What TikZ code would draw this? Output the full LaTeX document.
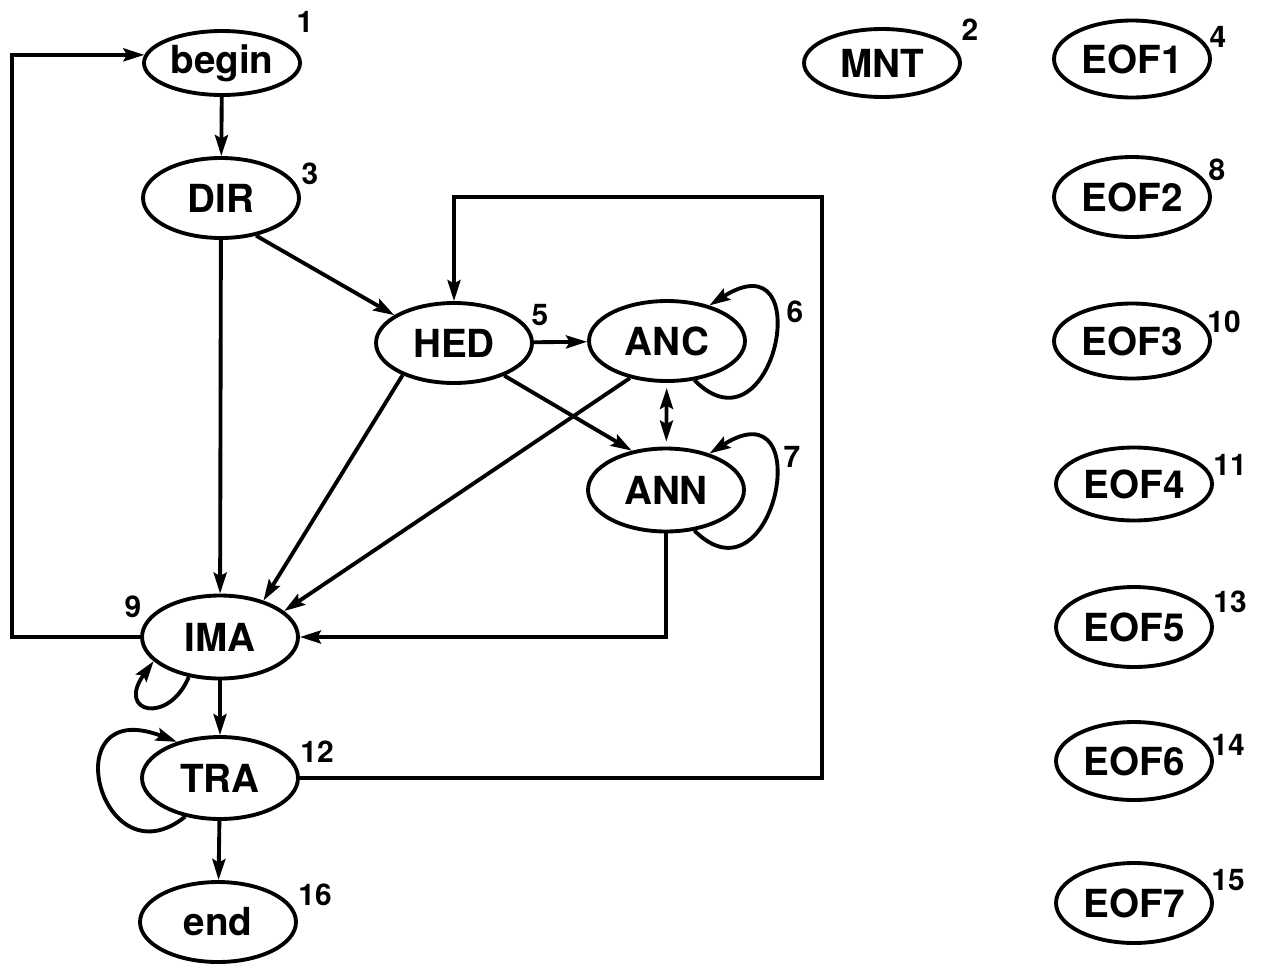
\documentclass[tikz,border=0pt]{standalone}
\usepackage{fontspec}
\setsansfont{TeX Gyre Heros}
\usepackage{tikz}
\usetikzlibrary{calc,shapes.geometric,arrows.meta}

\begin{document}
\begin{tikzpicture}[x=0.02cm, y=-0.02cm, line width=2.2pt,
		>={Stealth[length=4.2mm,width=2.6mm,inset=0.7mm]},
		state/.style={ellipse, draw, inner sep=0pt, minimum width=3.12cm, minimum height=1.6cm,
			font=\fontsize{22}{25}\selectfont\sffamily\bfseries},
		num/.style={inner sep=0pt, font=\fontsize{17}{19}\selectfont\sffamily\bfseries}]
					\useasboundingbox (0, 0) rectangle (1264, 964);

					% main column
					\node[state, minimum height=1.28cm] at (222, 63) (begin) {begin};
					\node[state] at (221, 198) (DIR) {DIR};
					\node[state] at (454, 343) (HED) {HED};
					\node[state] at (667, 341) (ANC) {ANC};
					\node[state, minimum height=1.66cm] at (666, 490) (ANN) {ANN};
					\node[state, minimum height=1.66cm] at (220, 637) (IMA) {IMA};
					\node[state, minimum height=1.64cm] at (220, 778) (TRA) {TRA};
					\node[state] at (218, 922) (end) {end};

					% isolated states
					\node[state, minimum height=1.36cm] at (882, 63) (MNT) {MNT};
					\node[state, minimum height=1.54cm] at (1132, 59) (EOF1) {EOF1};
					\node[state] at (1132, 197) (EOF2) {EOF2};
					\node[state, minimum height=1.5cm] at (1132, 341) (EOF3) {EOF3};
					\node[state, minimum height=1.46cm] at (1134, 484) (EOF4) {EOF4};
					\node[state] at (1134, 627) (EOF5) {EOF5};
					\node[state, minimum height=1.56cm] at (1134, 761) (EOF6) {EOF6};
					\node[state] at (1134, 903) (EOF7) {EOF7};

					\node[num] at (305, 22) (n1) {1};
					\node[num] at (970, 30) (n2) {2};
					\node[num] at (310, 174) (n3) {3};
					\node[num] at (1218, 37) (n4) {4};
					\node[num] at (540, 315) (n5) {5};
					\node[num] at (795, 312) (n6) {6};
					\node[num] at (792, 457) (n7) {7};
					\node[num] at (1217, 170) (n8) {8};
					\node[num] at (133, 607) (n9) {9};
					\node[num] at (1224, 322) (n10) {10};
					\node[num] at (1230, 465) (n11) {11};
					\node[num] at (317, 752) (n12) {12};
					\node[num] at (1230, 602) (n13) {13};
					\node[num] at (1228, 745) (n14) {14};
					\node[num] at (1228, 880) (n15) {15};
					\node[num] at (315, 895) (n16) {16};

					\coordinate (backleft) at (12, 637);
					\coordinate (backright) at (822, 197);

					\draw [->] (IMA.west) -- (backleft) |- (begin.174);
					\draw [->] (begin) -- (DIR);
					\draw [->] (DIR.-47) -- (HED.155);
					\draw [->] (DIR) -- (IMA);
					\draw [->] (HED) -- (ANC);
					\draw [->] (HED.212) -- (IMA.40);
					\draw [->] (HED.-33) -- (ANN.131);
					\draw [->] (ANC.225) -- (IMA.22);
					\draw [<->, shorten <=1mm, shorten >=1mm] (ANC) -- (ANN);
					\draw [->] (ANN.south) |- (IMA.east);
					\draw [->] (IMA) -- (TRA);
					\draw [->] (TRA) -- (end);
					\draw [->] (TRA.east) -| (backright) -| (HED.north);

					% self loops
					\draw [->] (ANC.-55) .. controls +(80, 80) and +(110, -70) .. (ANC.40);
					\draw [->] (ANN.-55) .. controls +(80, 80) and +(110, -70) .. (ANN.40);
					\draw [->] (IMA.-128) .. controls +(-20, 48) and +(-38, 52) .. (IMA.-160);
					\draw [->] (TRA.-132) .. controls +(-85, 68) and +(-125, -48) .. (TRA.140);
				\end{tikzpicture}
\end{document}
